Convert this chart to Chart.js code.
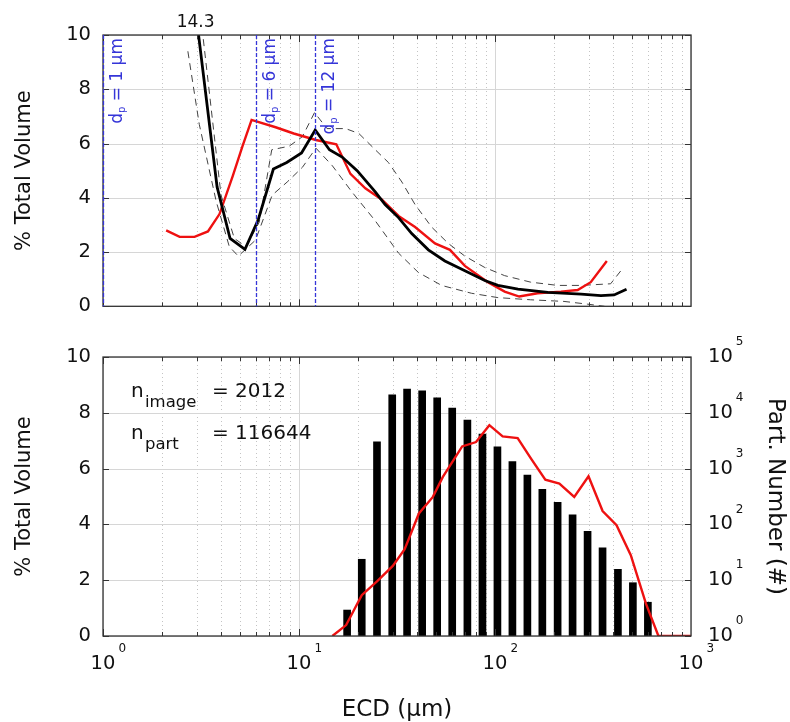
<!DOCTYPE html>
<html>
<head>
<meta charset="utf-8">
<script src="https://cdn.jsdelivr.net/npm/chart.js@4.4.1/dist/chart.umd.min.js"></script>
<style>
  html, body { margin: 0; padding: 0; background: #fff; }
  #wrap { position: relative; width: 790px; height: 722px; }
  canvas { position: absolute; left: 0; }
  #topChart { top: 0; }
  #bottomChart { top: 330px; }
</style>
</head>
<body>
<div id="wrap">
  <canvas id="topChart" width="790" height="330"></canvas>
  <canvas id="bottomChart" width="790" height="392"></canvas>
</div>
<script>
// top panel: volume distribution, mean (black) with bounds (dashed) and reference (red)
const meanX = [2.6, 3.82, 4.45, 5.3, 6.2, 7.4, 8.66, 10.3, 12.1, 14.3, 16.6, 19.8, 24.5, 27.5, 32.2, 37.6, 45.7, 55.5, 70.2, 88.7, 103.5, 131, 186, 275, 347, 405, 469];
const meanY = [14.3, 4.4, 2.5, 2.1, 3.2, 5.06, 5.3, 5.65, 6.5, 5.77, 5.5, 5.0, 4.22, 3.75, 3.27, 2.68, 2.08, 1.67, 1.31, 0.95, 0.77, 0.63, 0.51, 0.45, 0.39, 0.42, 0.63];
const upperX = [2.6, 4.0, 4.68, 5.37, 6.27, 7.26, 8.9, 10.4, 12.0, 13.9, 17.3, 20.2, 24.5, 28.6, 33.5, 39.1, 47.5, 57.7, 70.2, 88.7, 112, 152, 209, 275, 389, 452];
const upperY = [16.0, 4.1, 2.5, 2.2, 3.1, 5.77, 5.9, 6.25, 7.14, 6.55, 6.55, 6.37, 5.77, 5.3, 4.58, 3.75, 2.92, 2.32, 1.85, 1.43, 1.13, 0.89, 0.77, 0.77, 0.83, 1.43];
const lowerX = [2.71, 3.1, 3.78, 4.41, 4.9, 6.0, 7.3, 8.7, 10.4, 12.2, 14.8, 18.6, 24.5, 32.2, 40.6, 53.4, 75.9, 103.5, 152, 225, 296, 362];
const lowerY = [9.4, 6.7, 3.87, 2.2, 1.85, 2.44, 4.1, 4.58, 5.12, 5.83, 5.18, 4.22, 3.15, 1.96, 1.25, 0.77, 0.48, 0.32, 0.24, 0.18, 0.08, 0.0];
const refX = [2.1, 2.46, 2.93, 3.43, 3.93, 4.59, 5.15, 5.73, 7.6, 9.4, 12.2, 15.5, 18.3, 21.8, 26.5, 32.2, 39.1, 49.4, 58.9, 70.2, 92, 112, 133, 165, 217, 264, 308, 372];
const refY = [2.8, 2.56, 2.56, 2.76, 3.4, 4.8, 5.9, 6.87, 6.6, 6.37, 6.13, 5.97, 4.88, 4.35, 3.93, 3.33, 2.92, 2.32, 2.08, 1.49, 0.89, 0.54, 0.36, 0.48, 0.54, 0.6, 0.89, 1.67];
const dpMarks = [1, 6, 12];
const dpLabels = ["1", "6", "12"];
const clippedLabel = "14.3";

// bottom panel: volume histogram (bars) and particle number (red, right axis)
const binCenters = [17.6, 20.9, 25.0, 29.9, 35.6, 42.5, 50.7, 60.5, 72.3, 86.3, 102.9, 122.7, 146.3, 174.4, 208.7, 248.8, 296.7, 353.8, 423.8, 505.2, 602.6];
const volumePct = [0.93, 2.75, 6.96, 8.64, 8.85, 8.79, 8.54, 8.17, 7.74, 7.24, 6.78, 6.25, 5.77, 5.26, 4.79, 4.34, 3.75, 3.16, 2.39, 1.91, 1.21];
const countX = [14.8, 17.4, 20.9, 25.0, 30.1, 34.6, 40.9, 48.2, 54.2, 68, 80, 93.6, 109.4, 130.5, 152.7, 180.6, 213, 253.7, 300, 354, 417, 493, 589, 682, 1000];
const countY = [1, 1.57, 5.4, 9.5, 18, 36, 157, 311, 710, 2500, 2990, 6000, 3780, 3530, 1510, 635, 540, 311, 730, 174, 97, 28, 3.8, 1, 1];

const volTicks = [0, 2, 4, 6, 8, 10];
const decadeTicks = [1, 10, 100, 1000];
const countTicks = [1, 10, 100, 1000, 10000, 100000];
const nImage = "2012";
const nPart = "116644";

const FONT = "'DejaVu Sans', sans-serif";
const RED = "#ee1111";
const BLUE = "#3535d8";

function zip(xs, ys) {
    return xs.map((x, i) => ({ x: x, y: ys[i] }));
}

function drawGrid(chart) {
    const { ctx, chartArea: a } = chart;
    const x = chart.scales.x, y = chart.scales.y;
    ctx.save();
    ctx.lineWidth = 1;
    ctx.strokeStyle = "#c4c4c4";
    ctx.setLineDash([1, 3]);
    for (const d of [1, 10, 100]) {
        for (let m = 2; m <= 9; m++) {
            const px = Math.round(x.getPixelForValue(d * m)) + 0.5;
            ctx.beginPath(); ctx.moveTo(px, a.top); ctx.lineTo(px, a.bottom); ctx.stroke();
        }
    }
    ctx.setLineDash([]);
    ctx.strokeStyle = "#d6d6d6";
    for (const d of decadeTicks) {
        const px = Math.round(x.getPixelForValue(d)) + 0.5;
        ctx.beginPath(); ctx.moveTo(px, a.top); ctx.lineTo(px, a.bottom); ctx.stroke();
    }
    for (const v of volTicks) {
        const py = Math.round(y.getPixelForValue(v)) + 0.5;
        ctx.beginPath(); ctx.moveTo(a.left, py); ctx.lineTo(a.right, py); ctx.stroke();
    }
    ctx.restore();
}

function drawFrame(chart) {
    const { ctx, chartArea: a } = chart;
    const x = chart.scales.x, y = chart.scales.y;
    ctx.save();
    ctx.strokeStyle = "#333";
    ctx.lineWidth = 1.3;
    ctx.strokeRect(a.left, a.top, a.right - a.left, a.bottom - a.top);
    ctx.lineWidth = 1;
    for (const d of [1, 10, 100]) {
        for (let m = 1; m <= 9; m++) {
            const v = d * m;
            const len = m === 1 ? 7 : 4;
            const px = Math.round(x.getPixelForValue(v)) + 0.5;
            ctx.beginPath();
            ctx.moveTo(px, a.bottom); ctx.lineTo(px, a.bottom - len);
            ctx.moveTo(px, a.top); ctx.lineTo(px, a.top + len);
            ctx.stroke();
        }
    }
    for (const v of volTicks) {
        const py = Math.round(y.getPixelForValue(v)) + 0.5;
        ctx.beginPath();
        ctx.moveTo(a.left, py); ctx.lineTo(a.left + 6, py);
        ctx.moveTo(a.right, py); ctx.lineTo(a.right - 6, py);
        ctx.stroke();
    }
    ctx.restore();
}

function drawRotated(ctx, text, cx, cy, angle, size) {
    ctx.save();
    ctx.translate(cx, cy);
    ctx.rotate(angle);
    ctx.font = size + "px " + FONT;
    ctx.fillStyle = "#111";
    ctx.textAlign = "center";
    ctx.textBaseline = "middle";
    ctx.fillText(text, 0, 0);
    ctx.restore();
}

// text with a raised exponent, e.g. 10^3
function drawPower(ctx, base, exp, left, cy, align) {
    ctx.save();
    ctx.fillStyle = "#111";
    ctx.textBaseline = "middle";
    ctx.font = "19.5px " + FONT;
    const w = ctx.measureText(base).width;
    let x0 = align === "center" ? left - w / 2 : left;
    ctx.fillText(base, x0, cy);
    ctx.font = "12px " + FONT;
    ctx.fillText(exp, x0 + w + 3, cy - 15);
    ctx.restore();
}

const topDecor = {
    id: "topDecor",
    beforeDatasetsDraw(chart) { drawGrid(chart); },
    afterDatasetsDraw(chart) {
        const { ctx, chartArea: a } = chart;
        const x = chart.scales.x;
        drawFrame(chart);
        ctx.save();
        dpMarks.forEach((v, i) => {
            const px = Math.round(x.getPixelForValue(v)) + 0.5;
            ctx.strokeStyle = BLUE;
            ctx.lineWidth = 1.3;
            ctx.setLineDash([4, 2]);
            ctx.beginPath(); ctx.moveTo(px, a.top); ctx.lineTo(px, a.bottom); ctx.stroke();
            ctx.setLineDash([]);
            // label reads bottom to top, ends near the top of the plot
            const main = " = " + dpLabels[i] + " \u00b5m";
            ctx.font = "17px " + FONT;
            const wd = ctx.measureText("d").width;
            const wm = ctx.measureText(main).width;
            ctx.font = "10px " + FONT;
            const wp = ctx.measureText("p").width;
            const total = wd + wp + wm;
            ctx.save();
            ctx.translate(px + 18, a.top + 3 + total);
            ctx.rotate(-Math.PI / 2);
            ctx.fillStyle = BLUE;
            ctx.textBaseline = "alphabetic";
            ctx.font = "17px " + FONT;
            ctx.fillText("d", 0, 0);
            ctx.font = "10px " + FONT;
            ctx.fillText("p", wd, 3);
            ctx.font = "17px " + FONT;
            ctx.fillText(main, wd + wp, 0);
            ctx.restore();
        });
        // value of the clipped peak
        ctx.fillStyle = "#111";
        ctx.font = "17px " + FONT;
        ctx.textAlign = "center";
        ctx.textBaseline = "middle";
        ctx.fillText(clippedLabel, chart.scales.x.getPixelForValue(2.97), 23);
        ctx.restore();
        drawRotated(ctx, "% Total Volume", 25, (a.top + a.bottom) / 2, -Math.PI / 2, 21);
    }
};

const bottomDecor = {
    id: "bottomDecor",
    beforeDatasetsDraw(chart) { drawGrid(chart); },
    afterDatasetsDraw(chart) {
        const { ctx, chartArea: a } = chart;
        const x = chart.scales.x, y2 = chart.scales.y2;
        drawFrame(chart);
        decadeTicks.forEach((v, i) => {
            drawPower(ctx, "10", String(i), x.getPixelForValue(v), a.bottom + 28, "center");
        });
        countTicks.forEach((v, i) => {
            drawPower(ctx, "10", String(i), a.right + 17, y2.getPixelForValue(v), "left");
        });
        drawRotated(ctx, "% Total Volume", 25, (a.top + a.bottom) / 2, -Math.PI / 2, 21);
        drawRotated(ctx, "Part. Number (#)", 775, (a.top + a.bottom) / 2, Math.PI / 2, 23);
        drawRotated(ctx, "ECD (\u00b5m)", (a.left + a.right) / 2, a.bottom + 74, 0, 23);

        ctx.save();
        ctx.fillStyle = "#111";
        ctx.textBaseline = "alphabetic";
        const rows = [["image", nImage, a.top + 40], ["part", nPart, a.top + 82]];
        rows.forEach(r => {
            ctx.font = "20px " + FONT;
            ctx.fillText("n", a.left + 28, r[2]);
            ctx.font = "16.5px " + FONT;
            ctx.fillText(r[0], a.left + 42, r[2] + 10);
            ctx.font = "20px " + FONT;
            ctx.fillText("= " + r[1], a.left + 109, r[2]);
        });
        ctx.restore();
    }
};

const logX = {
    type: "logarithmic",
    min: 1,
    max: 1000,
    offset: false,
    ticks: { display: false },
    grid: { display: false, drawTicks: false, offset: false },
    border: { display: false }
};

const volY = {
    type: "linear",
    min: 0,
    max: 10,
    ticks: { stepSize: 2, padding: 12, color: "#111", font: { family: FONT, size: 19.5 } },
    grid: { display: false, drawTicks: false },
    border: { display: false },
    afterFit: s => { s.width = 103; }
};

const lineStyle = { pointRadius: 0, tension: 0, fill: false };

new Chart(document.getElementById("topChart"), {
    type: "line",
    data: {
        datasets: [
            Object.assign({ data: zip(meanX, meanY), borderColor: "#000", borderWidth: 2.8 }, lineStyle),
            Object.assign({ data: zip(refX, refY), borderColor: RED, borderWidth: 2.4 }, lineStyle),
            Object.assign({ data: zip(upperX, upperY), borderColor: "#444", borderWidth: 1, borderDash: [7, 5] }, lineStyle),
            Object.assign({ data: zip(lowerX, lowerY), borderColor: "#444", borderWidth: 1, borderDash: [7, 5] }, lineStyle)
        ]
    },
    options: {
        responsive: false,
        animation: false,
        layout: { padding: { left: 0, right: 99, top: 35, bottom: 0 } },
        plugins: { legend: { display: false }, tooltip: { enabled: false } },
        scales: {
            x: Object.assign({}, logX, { afterFit: s => { s.height = 15; } }),
            y: volY
        }
    },
    plugins: [topDecor]
});

new Chart(document.getElementById("bottomChart"), {
    type: "bar",
    data: {
        datasets: [
            Object.assign({ type: "line", data: zip(countX, countY), borderColor: RED, borderWidth: 2.4, yAxisID: "y2" }, lineStyle),
            { type: "bar", data: zip(binCenters, volumePct), backgroundColor: "#000", barThickness: 7, yAxisID: "y" }
        ]
    },
    options: {
        responsive: false,
        animation: false,
        layout: { padding: { left: 0, right: 0, top: 27, bottom: 0 } },
        plugins: { legend: { display: false }, tooltip: { enabled: false } },
        scales: {
            x: Object.assign({}, logX, { afterFit: s => { s.height = 86; } }),
            y: volY,
            y2: {
                type: "logarithmic",
                position: "right",
                min: 1,
                max: 100000,
                ticks: { display: false },
                grid: { display: false, drawTicks: false },
                border: { display: false },
                afterFit: s => { s.width = 99; }
            }
        }
    },
    plugins: [bottomDecor]
});
</script>
</body>
</html>
